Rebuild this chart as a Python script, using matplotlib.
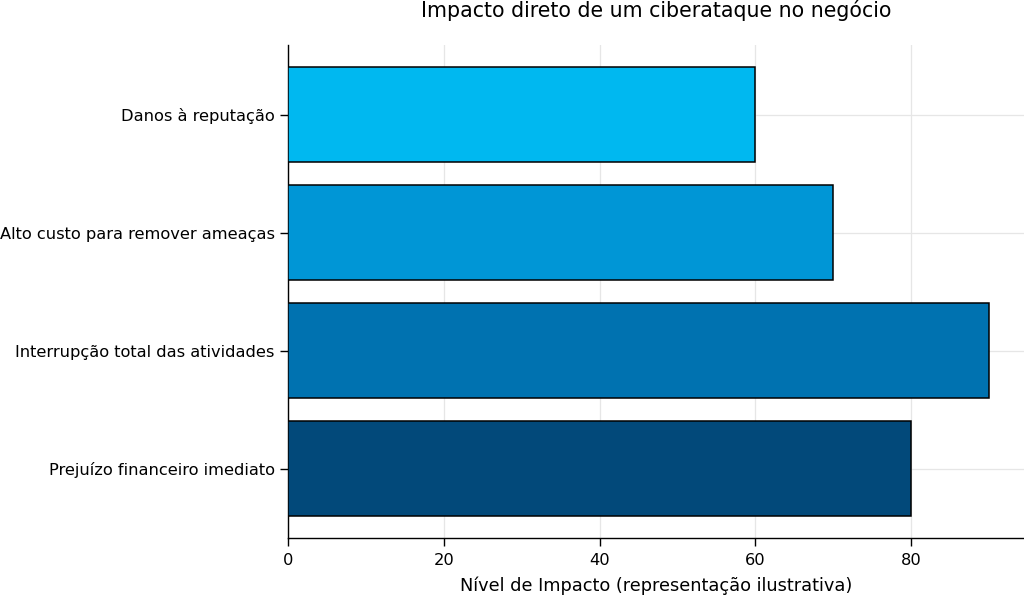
import matplotlib
matplotlib.use("Agg")
import matplotlib.pyplot as plt

categories = ["Prejuízo financeiro imediato", "Interrupção total das atividades",
              "Alto custo para remover ameaças", "Danos à reputação"]
values = [80, 90, 70, 60]
colors = ["#02497a", "#0072b0", "#0096d6", "#00b8f0"]

fig = plt.figure(figsize=(10.24, 5.98), dpi=100)
ax = fig.add_axes([0.28125, 0.0998, 0.71875, 0.8249])

ax.barh(categories, values, color=colors, edgecolor="black", linewidth=1.1, height=0.8, zorder=3)

ax.grid(True, color="#e6e6e6", linewidth=0.9, zorder=0)
ax.set_axisbelow(True)
for side in ["top", "right"]:
    ax.spines[side].set_visible(False)
for side in ["left", "bottom"]:
    ax.spines[side].set_linewidth(1.0)

ax.tick_params(labelsize=11.7, length=5.5, width=1.0, pad=4)
ax.tick_params(axis="x", pad=5)
ax.set_xlabel("Nível de Impacto (representação ilustrativa)", fontsize=12.8, labelpad=6.5)
ax.set_title("Impacto direto de um ciberataque no negócio", fontsize=14.8, pad=20)

fig.savefig("out.png", dpi=100)
